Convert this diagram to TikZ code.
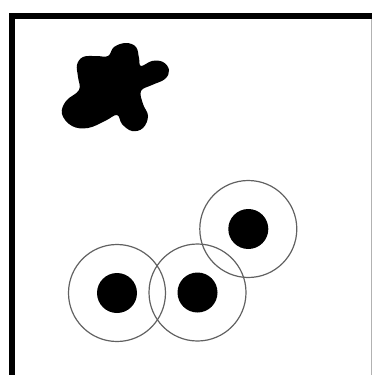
\documentclass[tikz,border=0pt]{standalone}
\begin{document}
\begin{tikzpicture}[x=1pt,y=-1pt,
  ring/.style={draw=black!62, line width=1.2pt},
  dot/.style={fill=black}]
\useasboundingbox (0,0) rectangle (372,375);
% frame
\fill[black] (9,13) rectangle (372,18.5);
\fill[black] (9,13) rectangle (14.5,375);
\draw[black!30, line width=0.8pt] (371,18.5) -- (371,375);
% blob
\fill[black] plot[smooth cycle, tension=0.65] coordinates {
  (108,56) (114,47) (126,43) (136,47) (139,58) (141,66)
  (152,61) (163,62) (169,70) (165,79) (152,85) (141,91)
  (143,104) (148,116) (143,128) (132,131) (122,124) (117,115)
  (105,121) (88,128) (72,126) (62,114) (66,101) (79,90)
  (78,77) (77,65) (83,57) (96,56)};
% circles
\coordinate (a) at (117,293);
\coordinate (b) at (197.5,292.5);
\coordinate (c) at (248.3,229);
\foreach \p in {a,b,c} {
  \draw[ring] (\p) circle (48.5);
  \fill[dot] (\p) circle (20);
}
\end{tikzpicture}
\end{document}
